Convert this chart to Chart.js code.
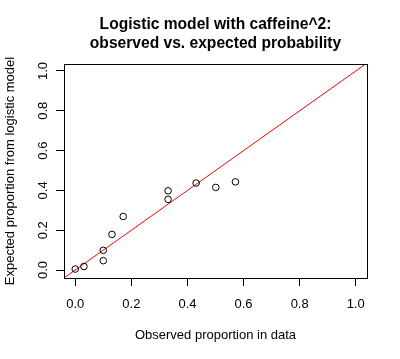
<!DOCTYPE html>
<html>
<head>
<meta charset="utf-8">
<script src="https://cdn.jsdelivr.net/npm/chart.js@4/dist/chart.umd.min.js"></script>
<style>
  html, body { margin: 0; padding: 0; background: #fff; }
</style>
</head>
<body>
<canvas id="chart" width="400" height="359"></canvas>
<script>
const titleLines = ['Logistic model with caffeine^2:', 'observed vs. expected probability'];
const xTitle = 'Observed proportion in data';
const yTitle = 'Expected proportion from logistic model';

// observed proportion vs. fitted probability, one point per caffeine level
const observed = [0.0, 0.031, 0.1, 0.1, 0.131, 0.171, 0.331, 0.331, 0.431, 0.501, 0.571];
const expected = [0.005, 0.018, 0.099, 0.047, 0.179, 0.269, 0.398, 0.355, 0.437, 0.415, 0.443];

// y = x reference line, spanning the plot range
const refLine = [-0.04, 1.04];

const tickValues = [0, 0.2, 0.4, 0.6, 0.8, 1.0];
const tickLabels = ['0.0', '0.2', '0.4', '0.6', '0.8', '1.0'];

const FONT = '"Liberation Sans", Arial, Helvetica, sans-serif';

const rStyle = {
    id: 'rStyle',
    afterDraw(chart) {
        const { ctx, chartArea: a, scales } = chart;
        ctx.save();
        // plot box
        ctx.strokeStyle = '#000';
        ctx.lineWidth = 1;
        ctx.strokeRect(Math.round(a.left) + 0.5, Math.round(a.top) + 0.5,
            Math.round(a.right - a.left), Math.round(a.bottom - a.top));

        // title, two lines centred over the plot region
        const cx = (a.left + a.right) / 2;
        ctx.fillStyle = '#000';
        ctx.font = 'bold 15.6px ' + FONT;
        ctx.textAlign = 'center';
        ctx.textBaseline = 'alphabetic';
        ctx.fillText(titleLines[0], cx, 29.3);
        ctx.fillText(titleLines[1], cx, 48.3);

        // y tick labels, rotated like R's las=0
        ctx.font = '13px ' + FONT;
        tickValues.forEach((v, i) => {
            const py = scales.y.getPixelForValue(v);
            ctx.save();
            ctx.translate(46.7, py);
            ctx.rotate(-Math.PI / 2);
            ctx.fillText(tickLabels[i], 0, 0);
            ctx.restore();
        });
        ctx.restore();
    }
};

const setTicks = scale => {
    scale.ticks = tickValues.map(v => ({ value: v }));
};

new Chart(document.getElementById('chart'), {
    type: 'scatter',
    data: {
        datasets: [
            {
                label: 'fit',
                data: observed.map((x, i) => ({ x: x, y: expected[i] })),
                pointStyle: 'circle',
                pointRadius: 3.3,
                pointBorderColor: '#000',
                pointBackgroundColor: 'rgba(0,0,0,0)',
                pointBorderWidth: 1,
                showLine: false
            },
            {
                label: 'y = x',
                type: 'line',
                data: refLine.map(v => ({ x: v, y: v })),
                borderColor: '#ff0000',
                borderWidth: 1,
                pointRadius: 0,
                fill: false
            }
        ]
    },
    options: {
        responsive: false,
        devicePixelRatio: 1,
        animation: false,
        layout: { padding: { left: 0, right: 33, top: 64, bottom: 0 } },
        plugins: {
            legend: { display: false },
            tooltip: { enabled: false },
            title: { display: false }
        },
        scales: {
            x: {
                type: 'linear',
                min: -0.04,
                max: 1.04,
                afterBuildTicks: setTicks,
                afterFit: s => { s.height = 81; },
                grid: { drawOnChartArea: false, drawTicks: true, tickLength: 8, color: '#000', lineWidth: 1 },
                border: { display: false },
                ticks: {
                    color: '#000',
                    font: { size: 13, family: FONT },
                    padding: 11,
                    maxRotation: 0,
                    callback: v => v.toFixed(1)
                },
                title: {
                    display: true,
                    text: xTitle,
                    color: '#000',
                    font: { size: 13, family: FONT },
                    padding: { top: 0, bottom: 16 }
                }
            },
            y: {
                type: 'linear',
                min: -0.04,
                max: 1.035,
                afterBuildTicks: setTicks,
                afterFit: s => { s.width = 64; },
                grid: { drawOnChartArea: false, drawTicks: true, tickLength: 8, color: '#000', lineWidth: 1 },
                border: { display: false },
                ticks: { display: false },
                title: {
                    display: true,
                    text: yTitle,
                    color: '#000',
                    font: { size: 13, family: FONT },
                    padding: { top: 3, bottom: 0 }
                }
            }
        }
    },
    plugins: [rStyle]
});
</script>
</body>
</html>
